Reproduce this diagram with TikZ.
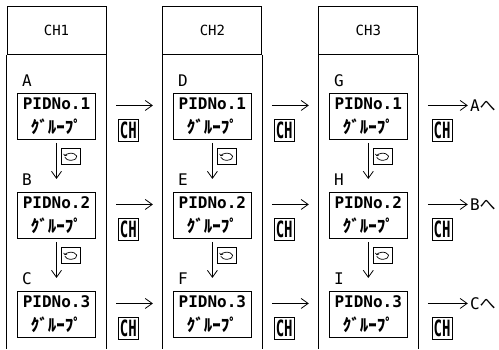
\documentclass[tikz,border=0pt]{standalone}
\usepackage{fontspec}
\setmainfont{DejaVu Sans Mono}
\newfontfamily\jp{Noto Sans CJK JP}
\usetikzlibrary{positioning,arrows.meta}

\begin{document}
\begin{tikzpicture}[x=1pt,y=1pt]
		% Define styles
		\tikzstyle{head} = [rectangle, draw, line width=0.9pt, minimum width=99pt,
		minimum height=48pt, inner sep=0pt, font=\fontsize{14}{16}\selectfont]
		\tikzstyle{group} = [rectangle, draw, line width=1pt, minimum width=78pt,
		minimum height=46pt, inner sep=0pt, align=center, font=\fontsize{16}{24}\selectfont\bfseries]
		\tikzstyle{tag} = [inner sep=0pt, font=\fontsize{16}{16}\selectfont] % A, B, C ... labels
		\tikzstyle{chmark} = [yshift=-14pt, rectangle, draw, line width=0.8pt, inner sep=1.5pt,
		font=\fontsize{14}{14}\selectfont\bfseries, yscale=1.6, transform shape]
		\tikzstyle{turnbox} = [rectangle, draw, line width=0.8pt, minimum width=19pt,
		minimum height=16pt, inner sep=0pt, path picture={
			\draw [line width=0.7pt, -{To[length=2pt]}] (path picture bounding box.center)
			++(-6pt,-1pt) arc[start angle=190, end angle=530, x radius=6pt, y radius=3.5pt];}]
		\tikzstyle{arrow} = [line width=0.8pt,->,>={Straight Barb[length=7pt,width=10pt]}]
		\tikzstyle{colline} = [line width=0.9pt]
		\newcommand{\grp}{{\jp\bfseries\fontsize{17}{24}\selectfont ｸﾞﾙｰﾌﾟ}}
		
		\useasboundingbox (0,0) rectangle (499,-349);
		\coordinate (bottom) at (0,-349);
		
		% Place nodes
		\node [head] (ch1) at (56.5,-30.5) {CH1};
		\node [head, right=56pt of ch1] (ch2) {CH2};
		\node [head, right=56pt of ch2] (ch3) {CH3};
		
		\node [group, below=38pt of ch1] (pa) {PIDNo.1\\\grp};
		\node [group, below=52pt of pa] (pb) {PIDNo.2\\\grp};
		\node [group, below=52pt of pb] (pc) {PIDNo.3\\\grp};
		\node [group, below=38pt of ch2] (pd) {PIDNo.1\\\grp};
		\node [group, below=52pt of pd] (pe) {PIDNo.2\\\grp};
		\node [group, below=52pt of pe] (pf) {PIDNo.3\\\grp};
		\node [group, below=38pt of ch3] (pg) {PIDNo.1\\\grp};
		\node [group, below=52pt of pg] (ph) {PIDNo.2\\\grp};
		\node [group, below=52pt of ph] (pi) {PIDNo.3\\\grp};
		
		\node [tag, above right=6pt and 5pt of pa.north west] (la) {A};
		\node [tag, above right=6pt and 5pt of pb.north west] (lb) {B};
		\node [tag, above right=6pt and 5pt of pc.north west] (lc) {C};
		\node [tag, above right=6pt and 5pt of pd.north west] (ld) {D};
		\node [tag, above right=6pt and 5pt of pe.north west] (le) {E};
		\node [tag, above right=6pt and 5pt of pf.north west] (lf) {F};
		\node [tag, above right=6pt and 5pt of pg.north west] (lg) {G};
		\node [tag, above right=6pt and 5pt of ph.north west] (lh) {H};
		\node [tag, above right=6pt and 5pt of pi.north west] (li) {I};
		
		\node [turnbox, below right=8pt and 4.5pt of pa.south] (ta) {};
		\node [turnbox, below right=8pt and 4.5pt of pb.south] (tb) {};
		\node [turnbox, below right=8pt and 4.5pt of pd.south] (td) {};
		\node [turnbox, below right=8pt and 4.5pt of pe.south] (te) {};
		\node [turnbox, below right=8pt and 4.5pt of pg.south] (tg) {};
		\node [turnbox, below right=8pt and 4.5pt of ph.south] (th) {};
		
		\node [chmark, right=22pt of pa.east] (ka) {CH};
		\node [chmark, right=22pt of pb.east] (kb) {CH};
		\node [chmark, right=22pt of pc.east] (kc) {CH};
		\node [chmark, right=22pt of pd.east] (kd) {CH};
		\node [chmark, right=22pt of pe.east] (ke) {CH};
		\node [chmark, right=22pt of pf.east] (kf) {CH};
		\node [chmark, right=24pt of pg.east] (kg) {CH};
		\node [chmark, right=24pt of ph.east] (kh) {CH};
		\node [chmark, right=24pt of pi.east] (ki) {CH};
		
		\node [tag, right=62pt of pg.east, yshift=11pt] (outa) {A{\jp へ}};
		\node [tag, right=62pt of ph.east, yshift=11pt] (outb) {B{\jp へ}};
		\node [tag, right=62pt of pi.east, yshift=11pt] (outc) {C{\jp へ}};
		
		% Column sides
		\draw [colline] (ch1.south west) -- (ch1.south west |- bottom) (ch1.south east) -- (ch1.south east |- bottom);
		\draw [colline] (ch2.south west) -- (ch2.south west |- bottom) (ch2.south east) -- (ch2.south east |- bottom);
		\draw [colline] (ch3.south west) -- (ch3.south west |- bottom) (ch3.south east) -- (ch3.south east |- bottom);
		
		% Draw arrows
		\draw [arrow, shorten <=3pt, shorten >=13pt] (pa) -- (pb);
		\draw [arrow, shorten <=3pt, shorten >=13pt] (pb) -- (pc);
		\draw [arrow, shorten <=3pt, shorten >=13pt] (pd) -- (pe);
		\draw [arrow, shorten <=3pt, shorten >=13pt] (pe) -- (pf);
		\draw [arrow, shorten <=3pt, shorten >=13pt] (pg) -- (ph);
		\draw [arrow, shorten <=3pt, shorten >=13pt] (ph) -- (pi);
		\draw [arrow, shorten <=20pt, shorten >=20pt] ([yshift=11pt]pa.east) -- ([yshift=11pt]pd.west);
		\draw [arrow, shorten <=20pt, shorten >=20pt] ([yshift=11pt]pb.east) -- ([yshift=11pt]pe.west);
		\draw [arrow, shorten <=20pt, shorten >=20pt] ([yshift=11pt]pc.east) -- ([yshift=11pt]pf.west);
		\draw [arrow, shorten <=20pt, shorten >=20pt] ([yshift=11pt]pd.east) -- ([yshift=11pt]pg.west);
		\draw [arrow, shorten <=20pt, shorten >=20pt] ([yshift=11pt]pe.east) -- ([yshift=11pt]ph.west);
		\draw [arrow, shorten <=20pt, shorten >=20pt] ([yshift=11pt]pf.east) -- ([yshift=11pt]pi.west);
		\draw [arrow, shorten <=20pt, shorten >=2pt] ([yshift=11pt]pg.east) -- (outa);
		\draw [arrow, shorten <=20pt, shorten >=2pt] ([yshift=11pt]ph.east) -- (outb);
		\draw [arrow, shorten <=20pt, shorten >=2pt] ([yshift=11pt]pi.east) -- (outc);
	\end{tikzpicture}
\end{document}
